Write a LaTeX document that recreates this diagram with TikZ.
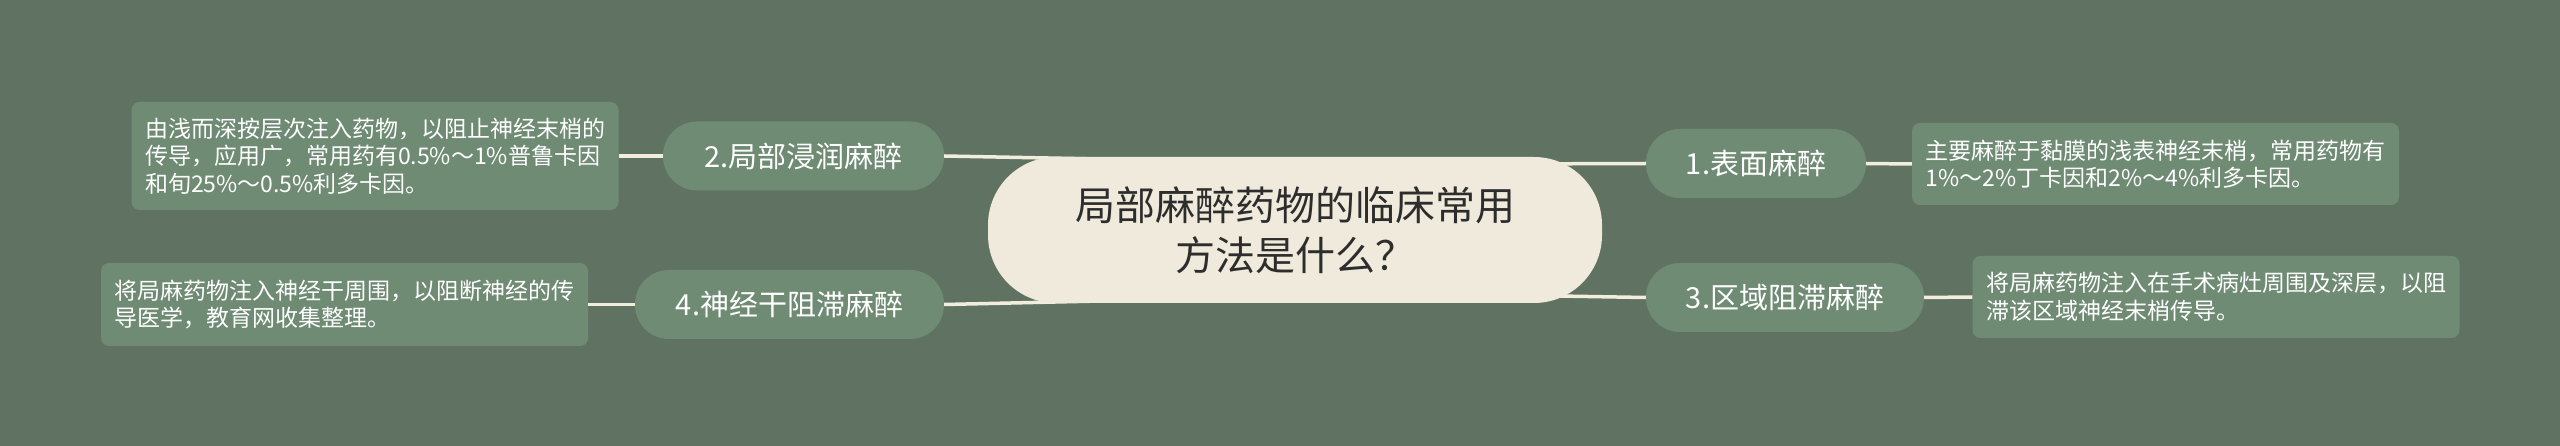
\documentclass[tikz,border=0pt]{standalone}
\usepackage{fontspec}
\setmainfont{Noto Sans CJK SC}
\definecolor{bgc}{RGB}{96,115,99}
\definecolor{nodefill}{RGB}{111,139,116}
\definecolor{creamc}{RGB}{239,234,219}
\definecolor{linec}{RGB}{242,238,222}
\definecolor{darktext}{RGB}{45,45,45}
\begin{document}
\begin{tikzpicture}[x=1pt,y=-1pt,
  topic/.style={fill=nodefill, rounded corners=34pt, text=white, font=\fontsize{29}{34}\selectfont, inner sep=0pt, minimum height=69pt},
  leaf/.style={fill=nodefill, rounded corners=8pt, text=white, font=\fontsize{23}{27.5}\selectfont, align=left, inner sep=0pt, minimum width=487pt},
  central/.style={fill=creamc, rounded corners=68pt, text=darktext, font=\fontsize{40}{50}\selectfont, align=center, inner sep=0pt, minimum width=614pt, minimum height=146pt},
  conn/.style={draw=linec, line width=3.5pt},
]
\fill[bgc] (0,0) rectangle (2560,446);
\useasboundingbox (0,0) rectangle (2560,446);

% child nodes
\node[topic, minimum width=220pt] (n1) at (1756,163.5) {1.表面麻醉};
\node[topic, minimum width=281pt] (n2) at (803.5,156) {2.局部浸润麻醉};
\node[topic, minimum width=278pt] (n3) at (1785,297.5) {3.区域阻滞麻醉};
\node[topic, minimum width=309pt] (n4) at (789.5,304.5) {4.神经干阻滞麻醉};

% leaves
\node[leaf, minimum height=82pt] (l1) at (2155.5,164) {主要麻醉于黏膜的浅表神经末梢，常用药物有\\1\%～2\%丁卡因和2\%～4\%利多卡因。};
\node[leaf, minimum height=108pt] (l2) at (375,156) {由浅而深按层次注入药物，以阻止神经末梢的\\传导，应用广，常用药有0.5\%～1\%普鲁卡因\\和旬25\%～0.5\%利多卡因。};
\node[leaf, minimum height=82pt] (l3) at (2216,297) {将局麻药物注入在手术病灶周围及深层，以阻\\滞该区域神经末梢传导。};
\node[leaf, minimum height=83pt] (l4) at (344.5,304.5) {将局麻药物注入神经干周围，以阻断神经的传\\导医学，教育网收集整理。};

% hidden ends of the main connectors
\coordinate (c1) at (1500,164);
\coordinate (c2) at (1100,159);
\coordinate (c3) at (1500,295);
\coordinate (c4) at (1100,301);

\draw[conn] (c1) -- (n1.west);
\draw[conn] (n2.east) -- (c2);
\draw[conn] (c3) -- (n3.west);
\draw[conn] (n4.east) -- (c4);

\draw[conn] (n1.east) -- (l1.west);
\draw[conn] (l2.east) -- (n2.west);
\draw[conn] (n3.east) -- (l3.west);
\draw[conn] (l4.east) -- (n4.west);

% central node drawn on top
\node[central] (c) at (1295,230) {局部麻醉药物的临床常用\\方法是什么？};
\end{tikzpicture}
\end{document}
